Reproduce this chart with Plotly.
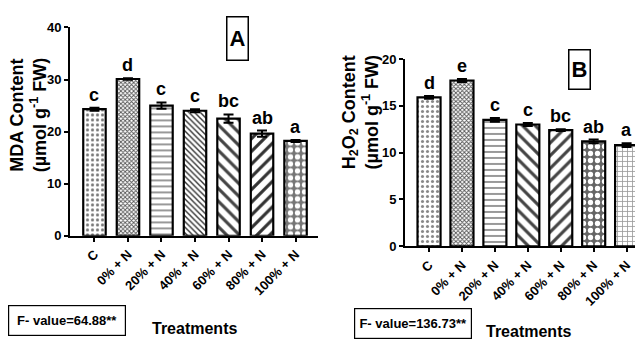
import plotly.graph_objects as go

categories = ["C", "0% + N", "20% + N", "40% + N", "60% + N", "80% + N", "100% + N"]
mda_values = [24.3, 30.1, 25.0, 24.0, 22.5, 19.6, 18.2]
mda_errors = [0.3, 0.15, 0.6, 0.3, 0.8, 0.6, 0.2]
mda_letters = ["c", "d", "c", "c", "bc", "ab", "a"]
mda_ticks = [0, 10, 20, 30, 40]
h2o2_values = [15.9, 17.7, 13.5, 13.0, 12.4, 11.2, 10.8]
h2o2_errors = [0.15, 0.15, 0.2, 0.15, 0.1, 0.2, 0.2]
h2o2_letters = ["d", "e", "c", "c", "bc", "ab", "a"]
h2o2_ticks = [0, 5, 10, 15, 20]
mda_fvalue = "F- value=64.88**"
h2o2_fvalue = "F- value=136.73**"

ARIAL = "Liberation Sans, Arial, Helvetica"

W, H = 643, 339
def px(x):
    return x / W
def py(y):
    return 1 - y / H
def b(t):
    return "<b>" + str(t) + "</b>"

pat_a = dict(
    shape=[".", "x", "-", "\\", "\\", "/", "."],
    fgcolor=["#777777", "#555555", "#777777", "#333333", "#444444", "#333333", "white"],
    bgcolor=["white", "white", "white", "white", "white", "white", "#777777"],
    size=[5, 3, 6, 4, 9, 9, 7],
    solidity=[0.3, 0.5, 0.25, 0.35, 0.35, 0.35, 0.45],
    fillmode="replace",
)
pat_b = dict(
    shape=[".", "x", "-", "\\", "/", ".", "+"],
    fgcolor=["#888888", "#555555", "#777777", "#444444", "#444444", "white", "#999999"],
    bgcolor=["white", "white", "white", "white", "white", "#666666", "white"],
    size=[5, 3, 6, 9, 9, 7, 5],
    solidity=[0.3, 0.5, 0.25, 0.35, 0.35, 0.45, 0.3],
    fillmode="replace",
)

fig = go.Figure()
fig.add_trace(go.Bar(
    x=categories, y=mda_values, xaxis="x", yaxis="y", width=0.67,
    marker=dict(color="white", line=dict(color="black", width=2.2), pattern=pat_a),
    error_y=dict(type="data", array=mda_errors, color="black", thickness=2, width=5),
    showlegend=False,
))
fig.add_trace(go.Bar(
    x=categories, y=h2o2_values, xaxis="x2", yaxis="y2", width=0.7,
    marker=dict(color="white", line=dict(color="black", width=2.2), pattern=pat_b),
    error_y=dict(type="data", array=h2o2_errors, color="black", thickness=2, width=5),
    showlegend=False,
))

axis_common = dict(showline=True, linecolor="black", linewidth=2, ticks="outside",
                   ticklen=4, tickwidth=2, tickcolor="black", showgrid=False,
                   zeroline=False, mirror=False)
xtick = dict(family=ARIAL, size=13, color="black")
ytick = dict(family=ARIAL, size=13, color="black")
cat_text = [b(c) for c in categories]

fig.update_layout(
    width=W, height=H, margin=dict(l=0, r=0, t=0, b=0),
    paper_bgcolor="white", plot_bgcolor="white",
    xaxis=dict(domain=[px(62), px(310)], range=[-0.73, 6.67], anchor="y",
               tickangle=-45, tickfont=xtick, tickvals=categories, ticktext=cat_text,
               **axis_common),
    yaxis=dict(domain=[py(231), py(13)], range=[0, 40], anchor="x",
               tickvals=mda_ticks, ticktext=[b(t) for t in mda_ticks], tickfont=ytick,
               **axis_common),
    xaxis2=dict(domain=[px(397), px(640)], range=[-0.73, 6.65], anchor="y2",
                tickangle=-45, tickfont=xtick, tickvals=categories, ticktext=cat_text,
                **axis_common),
    yaxis2=dict(domain=[py(242), py(46)], range=[0, 20], anchor="x2",
                tickvals=h2o2_ticks, ticktext=[b(t) for t in h2o2_ticks], tickfont=ytick,
                **axis_common),
)

ann = []
for c, v, e, l in zip(categories, mda_values, mda_errors, mda_letters):
    ann.append(dict(x=c, y=v + e, xref="x", yref="y", text=b(l), showarrow=False,
                    yanchor="bottom", yshift=1,
                    font=dict(family=ARIAL, size=18, color="black")))
for c, v, e, l in zip(categories, h2o2_values, h2o2_errors, h2o2_letters):
    ann.append(dict(x=c, y=v + e, xref="x2", yref="y2", text=b(l), showarrow=False,
                    yanchor="bottom", yshift=1,
                    font=dict(family=ARIAL, size=18, color="black")))

# axis titles
ann.append(dict(x=px(20), y=py(105), xref="paper", yref="paper", showarrow=False,
                text="<b>MDA Content</b><br><b>(µmol g<sup>-1</sup> FW)</b>", textangle=-90,
                xanchor="center", yanchor="middle",
                font=dict(family=ARIAL, size=18, color="black")))
ann.append(dict(x=px(352), y=py(102), xref="paper", yref="paper", showarrow=False,
                text="<b>H<sub>2</sub>O<sub>2</sub> Content</b><br><b>(µmol g<sup>-1</sup> FW)</b>",
                textangle=-90, xanchor="center", yanchor="middle",
                font=dict(family=ARIAL, size=18, color="black")))

# panel letters
ann.append(dict(x=px(229), y=py(25), xref="paper", yref="paper", showarrow=False,
                text=b("A"), xanchor="center", yanchor="middle", width=18, height=40,
                bordercolor="black", borderwidth=1.5, borderpad=1,
                font=dict(family=ARIAL, size=22, color="black")))
ann.append(dict(x=px(571), y=py(57), xref="paper", yref="paper", showarrow=False,
                text=b("B"), xanchor="center", yanchor="middle", width=18, height=36,
                bordercolor="black", borderwidth=1.5, borderpad=1,
                font=dict(family=ARIAL, size=22, color="black")))

# F-value boxes
ann.append(dict(x=px(59), y=py(320), xref="paper", yref="paper", showarrow=False,
                text=b(mda_fvalue), xanchor="center", yanchor="middle", width=114, height=27,
                bordercolor="black", borderwidth=1.2, borderpad=1,
                font=dict(family=ARIAL, size=13, color="black")))
ann.append(dict(x=px(405), y=py(323), xref="paper", yref="paper", showarrow=False,
                text=b(h2o2_fvalue), xanchor="center", yanchor="middle", width=114, height=27,
                bordercolor="black", borderwidth=1.2, borderpad=1,
                font=dict(family=ARIAL, size=13, color="black")))

# x titles
ann.append(dict(x=px(186), y=py(328), xref="paper", yref="paper", showarrow=False,
                text=b("Treatments"), xanchor="center", yanchor="middle",
                font=dict(family=ARIAL, size=16, color="black")))
ann.append(dict(x=px(520), y=py(331), xref="paper", yref="paper", showarrow=False,
                text=b("Treatments"), xanchor="center", yanchor="middle",
                font=dict(family=ARIAL, size=16, color="black")))

fig.update_layout(annotations=ann)
fig.write_html("out.html")
